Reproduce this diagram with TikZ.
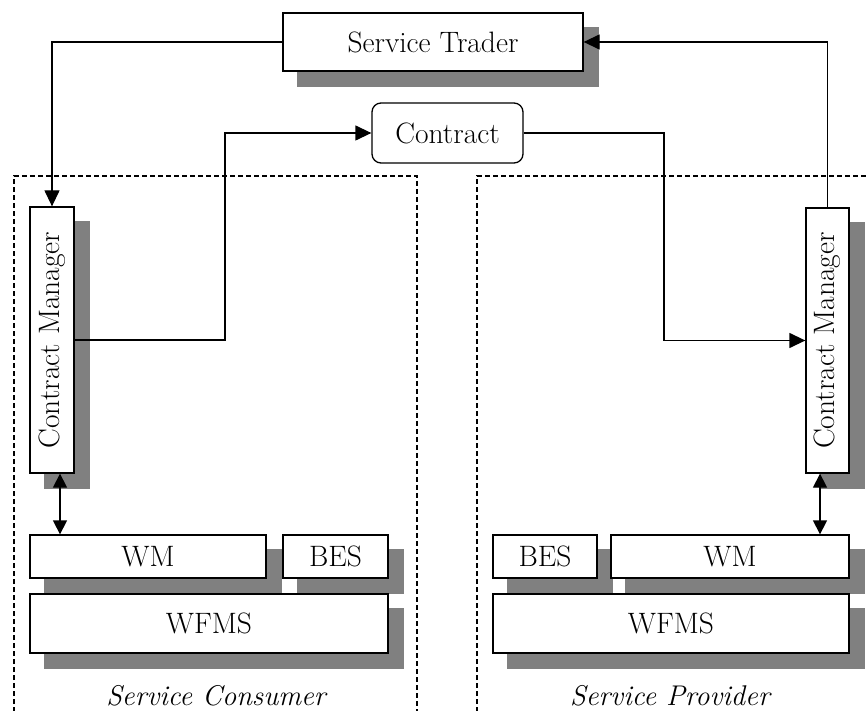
\documentclass[tikz,border=0pt]{standalone}
\usetikzlibrary{arrows.meta,backgrounds}
\begin{document}
\begin{tikzpicture}[x=1pt,y=-1pt,
  box/.style={draw=black,line width=1.3pt,fill=white,inner sep=0pt,font=\fontsize{29.5}{34}\selectfont},
  shadowfill/.style={fill=black!50},
  conn/.style={line width=1.3pt,-{Triangle[length=16pt,width=15pt]}},
  dbl/.style={line width=1.3pt,{Triangle[length=14pt,width=14pt]}-{Triangle[length=14pt,width=14pt]}},
  region/.style={line width=1.3pt,dash pattern=on 5pt off 3pt},
  lbl/.style={font=\fontsize{28.5}{33}\selectfont\itshape}]
\useasboundingbox (0,0) rectangle (868,711);
% regions
\draw[region] (14,720) -- (14,176) -- (417,176) -- (417,720);
\draw[region] (477,720) -- (477,176) -- (880,176);
% nodes
\node[box,minimum width=300pt,minimum height=58pt] (ST) at (433,42) {Service Trader};
\node[box,minimum width=151pt,minimum height=60pt,rounded corners=9pt] (C) at (447.5,133) {Contract};
\node[box,minimum width=266pt,minimum height=44pt,rotate=90] (LCM) at (52,340) {Contract Manager};
\node[box,minimum width=265pt,minimum height=43pt,rotate=90] (RCM) at (827.5,340.5) {Contract Manager};
\node[box,minimum width=236pt,minimum height=43pt] (LWM) at (148,556.5) {WM};
\node[box,minimum width=105pt,minimum height=43pt] (LBES) at (335.5,556.5) {BES};
\node[box,minimum width=358pt,minimum height=59pt] (LWFMS) at (209,623.5) {WFMS};
\node[box,minimum width=104pt,minimum height=43pt] (RBES) at (545,556.5) {BES};
\node[box,minimum width=238pt,minimum height=43pt] (RWM) at (730,556.5) {WM};
\node[box,minimum width=356pt,minimum height=59pt] (RWFMS) at (671,623.5) {WFMS};
% shadows
\begin{pgfonlayer}{background}
\foreach \n in {ST,LCM,RCM,LWM,LBES,LWFMS,RBES,RWM,RWFMS}{
  \fill[shadowfill] ([shift={(15,15)}]\n.south west) rectangle ([shift={(15,15)}]\n.north east);
}
\end{pgfonlayer}
% helper coordinates
\coordinate (b1) at (225,0);
\coordinate (b2) at (664,0);
\coordinate (c1) at (60,0);
\coordinate (c2) at (820,0);
% connectors
\draw[conn] (ST.west) -| (LCM.east);
\draw[conn] (LCM.south) -- (LCM.south -| b1) |- (C.west);
\draw[conn] (C.east) -- (C.east -| b2) |- (RCM.north);
\draw[conn] (RCM.east) |- (ST.east);
\draw[dbl] (LCM.west -| c1) -- (LWM.north -| c1);
\draw[dbl] (RCM.west -| c2) -- (RWM.north -| c2);
% labels
\node[lbl] (SC) at (216,696) {Service Consumer};
\node[lbl] (SP) at (670,696) {Service Provider};
\end{tikzpicture}
\end{document}
